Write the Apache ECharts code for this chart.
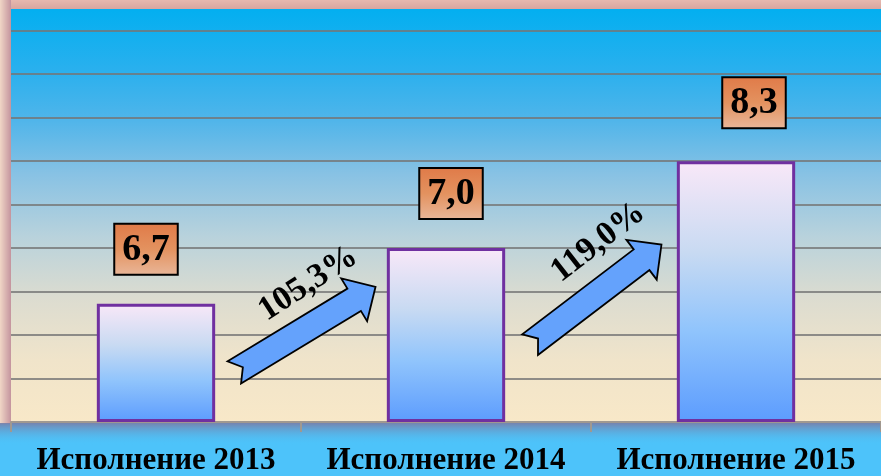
<!DOCTYPE html>
<html><head><meta charset="utf-8">
<script src="https://cdn.jsdelivr.net/npm/echarts@6/dist/echarts.min.js"></script>
<style>html,body{margin:0;padding:0;background:#4dc3fa;} #c{width:881px;height:476px;}</style>
</head><body><div id="c"></div>
<script>
// ---- data ----
const categories = ['Исполнение 2013', 'Исполнение 2014', 'Исполнение 2015'];
const values = [6.7, 7.0, 8.3];              // value labels shown above the bars
const barHeights = [2.72, 4.0, 6.0];         // bar heights as drawn (hidden axis units)
const growthLabels = ['105,3%', '119,0%'];
const arrowTails = [[0.27, 1.14], [1.29, 1.78]];
const arrowTips = [[0.757, 3.11], [1.743, 4.08]];
const growthLabelPos = [[0.525, 3.18], [1.525, 4.13]];

// ---- styling ----
const growthLabelAngle = [33, 38];
const labelOffsets = [[-10, 0], [5, 0], [18, -4]];
const FONT = '"Liberation Serif", "Times New Roman", serif';

const chart = echarts.init(document.getElementById('c'), null, {renderer: 'canvas'});
const LG = echarts.graphic.LinearGradient;

const option = {
  backgroundColor: '#4dc3fa',
  animation: false,
  graphic: [
    {type: 'rect', z: -10, shape: {x: 0, y: 0, width: 881, height: 10},
     style: {fill: new LG(0, 0, 0, 1, [{offset: 0, color: '#e6b8ae'}, {offset: 1, color: '#d6a49e'}])}},
    {type: 'rect', z: -10, shape: {x: 0, y: 0, width: 11, height: 424},
     style: {fill: new LG(0, 0, 1, 0, [{offset: 0, color: '#f0d6c6'}, {offset: 1, color: '#c4949e'}])}},
    {type: 'rect', z: -10, shape: {x: 0, y: 423, width: 881, height: 22},
     style: {fill: new LG(0, 0, 0, 1, [{offset: 0, color: 'rgba(120,128,170,0.95)'}, {offset: 1, color: 'rgba(77,195,250,0)'}])}}
  ],
  grid: {
    left: 11, right: -6, top: 9, bottom: 53.5,
    show: true, borderWidth: 0,
    backgroundColor: new LG(0, 0, 0, 1, [
      {offset: 0, color: '#03aff0'},
      {offset: 0.15, color: '#2ab0ee'},
      {offset: 0.27, color: '#50b5ea'},
      {offset: 0.4, color: '#88c2e4'},
      {offset: 0.55, color: '#b8d2dc'},
      {offset: 0.7, color: '#dcdcd0'},
      {offset: 0.85, color: '#f0e4ca'},
      {offset: 1, color: '#f8e8c8'}
    ])
  },
  xAxis: [{
    type: 'category', data: categories,
    axisLine: {lineStyle: {color: '#a09890', width: 2}},
    axisTick: {show: true, length: 10, lineStyle: {color: '#a09890', width: 2}},
    axisLabel: {color: '#000', fontSize: 31, fontWeight: 'bold', fontFamily: FONT, margin: 23,
                interval: 0, hideOverlap: false}
  }, {
    type: 'value', min: -0.5, max: 2.5, show: false
  }],
  yAxis: {
    type: 'value', min: 0, max: 9.5, interval: 1,
    axisLine: {show: false}, axisTick: {show: false}, axisLabel: {show: false},
    splitLine: {show: true, showMinLine: false, showMaxLine: false,
      lineStyle: {color: 'rgba(118,118,118,0.8)', width: 2}}
  },
  series: [{
    type: 'bar',
    barWidth: '40.8%',
    data: barHeights.map((v, i) => ({value: v, label: {offset: labelOffsets[i]}})),
    itemStyle: {
      color: new LG(0, 0, 0, 1, [
        {offset: 0, color: '#f9e8f8'},
        {offset: 0.35, color: '#c8daf2'},
        {offset: 0.65, color: '#90c4fc'},
        {offset: 1, color: '#5c9cfe'}
      ]),
      borderColor: '#7030a0', borderWidth: 3
    },
    label: {
      show: true, position: 'top', distance: 30,
      formatter: p => values[p.dataIndex].toFixed(1).replace('.', ','),
      color: '#000', fontSize: 38, fontWeight: 'bold', fontFamily: FONT,
      lineHeight: 44, padding: [3, 7, 2, 7],
      backgroundColor: new LG(0, 0, 0, 1, [
        {offset: 0, color: '#e07a48'},
        {offset: 0.5, color: '#e3925f'},
        {offset: 1, color: '#e9b79a'}
      ]),
      borderColor: '#000', borderWidth: 2
    }
  }, {
    type: 'custom',
    xAxisIndex: 1, yAxisIndex: 0,
    z: 5,
    data: arrowTails.map((t, i) => [t[0], t[1], arrowTips[i][0], arrowTips[i][1], growthLabelPos[i][0], growthLabelPos[i][1]]),
    renderItem: function (params, api) {
      const T = api.coord([api.value(0), api.value(1)]);
      const P = api.coord([api.value(2), api.value(3)]);
      const C = api.coord([api.value(4), api.value(5)]);
      const dx = P[0] - T[0], dy = P[1] - T[1], len = Math.hypot(dx, dy);
      const ux = dx / len, uy = dy / len, nx = -uy, ny = ux;
      const w = 13, h = 25, L = 25, d = 10;
      const bx = P[0] - ux * L, by = P[1] - uy * L;
      const pts = [
        [T[0] + nx * w, T[1] + ny * w], [bx + nx * w, by + ny * w], [bx + nx * h, by + ny * h], P,
        [bx - nx * h, by - ny * h], [bx - nx * w, by - ny * w], [T[0] - nx * w, T[1] - ny * w],
        [T[0] + ux * d, T[1] + uy * d]
      ];
      const ang = growthLabelAngle[params.dataIndex] * Math.PI / 180;
      return {
        type: 'group', children: [
          {type: 'polygon', shape: {points: pts}, style: {fill: '#64a2fc', stroke: '#000', lineWidth: 1.8}},
          {type: 'text', x: C[0], y: C[1], rotation: ang,
           style: {text: growthLabels[params.dataIndex], fill: '#000', font: 'bold 34px ' + FONT,
                   align: 'center', verticalAlign: 'middle'}}
        ]
      };
    }
  }]
};
chart.setOption(option);
</script>
</body></html>
